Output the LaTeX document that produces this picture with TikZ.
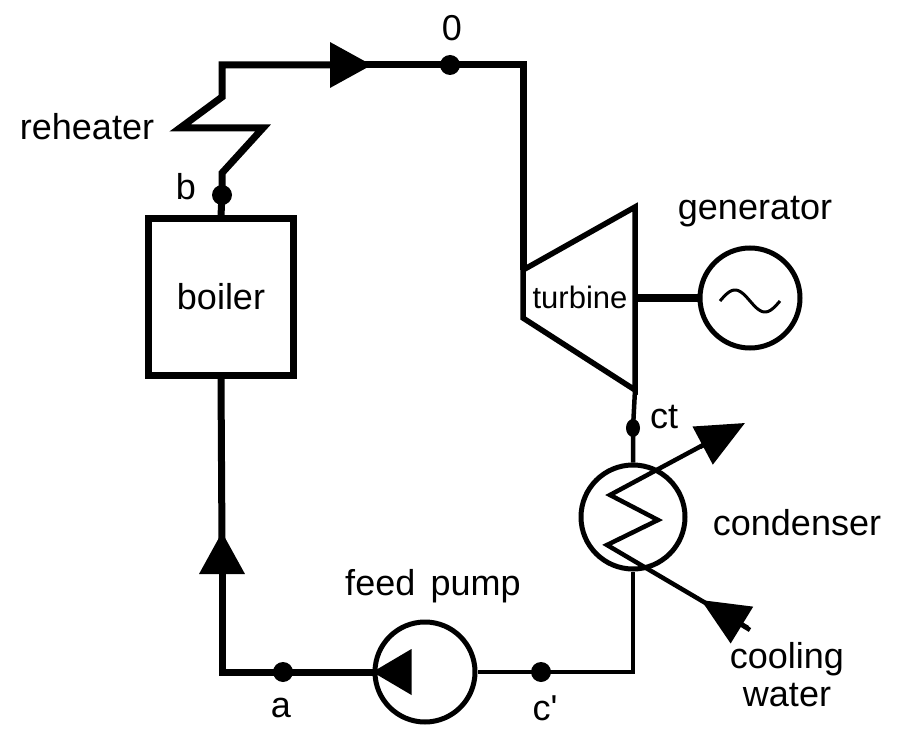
\documentclass[tikz,border=0pt]{standalone}
\usepackage{fontspec}
\setmainfont{Liberation Sans}
\usepackage{tikz}
\usetikzlibrary{shapes.geometric, arrows.meta, positioning}
\tikzstyle{pipe} = [line width=7pt, line join=miter]
\tikzstyle{thinpipe} = [line width=4.5pt]
\tikzstyle{head} = [-{Triangle[length=42pt, width=44pt]}]
\tikzstyle{dot} = [circle, fill, inner sep=0pt, minimum size=20pt]
\tikzstyle{tag} = [font=\fontsize{36}{38}\selectfont, inner sep=0pt]
\tikzstyle{machine} = [circle, draw, line width=5pt, inner sep=0pt, minimum size=100pt]
\tikzstyle{box} = [rectangle, draw, line width=7pt, minimum width=145pt, minimum height=156pt, font=\fontsize{36}{38}\selectfont]

\begin{document}
\begin{tikzpicture}[x=1pt, y=-1pt]
\useasboundingbox (0,0) rectangle (900,730);

% components
\node[box] (boiler) at (221,297) {boiler};
\node[machine] (pump) at (425,672) {};
\node[machine, minimum size=104pt] (cond) at (633,517) {};
\node[machine] (gen) at (750,298) {};

% state points
\node[dot] (p0) at (450,65) {};
\node[dot] (pb) at (222,195) {};
\node[dot] (pa) at (283,672) {};
\node[dot] (pc) at (541,672) {};
\node[dot, ellipse, minimum width=14pt, minimum height=18pt] (pct) at (633,428) {};

% turbine corners
\coordinate (tin) at (523,270);
\coordinate (ttop) at (635,207);
\coordinate (tbot) at (635,390);
\coordinate (tlow) at (523,318);
\draw[line width=5.5pt, line join=miter] (tin) -- (ttop) -- (tbot) -- (tlow) -- cycle;
\node[font=\fontsize{31}{34}\selectfont, inner sep=0pt] (turb) at (580,297) {turbine};

% shaft and generator
\coordinate (shaft) at (635,298);
\draw[line width=8pt] (shaft) -- (gen.west);
\draw[line width=3pt] plot[domain=0:1, samples=40] ({720+60*\x}, {301-11*sin(360*\x)});

% boiler -> reheater -> turbine
\draw[pipe, head] (boiler.north) -- (pb.center) -- (222,173) -- (263,128) -- (180,128) -- (222,97) -- (222,65) -- (372,65);
\draw[pipe] (360,65) -- (p0.center) -- (523,65) -- (tin);

% turbine -> condenser -> pump
\draw[thinpipe] (tbot) -- (pct.center) -- (cond.north);
\draw[thinpipe] (cond.south) -- (633,672) -- (pc.center) -- (pump.east);

% pump -> boiler
\draw[pipe] (pump.west) -- (pa.center);
\fill (pump.west) -- ++(39,-23) -- ++(0,46) -- cycle;
\draw[pipe, head] (pa.center) -- (222,672) -- (222,532);
\draw[pipe] (222,545) -- (boiler.south);

% condenser coil and cooling water
\draw[thinpipe, line join=miter] (748,628) -- (607,545) -- (658,520) -- (610,495) -- (705,444);
\draw[thinpipe, -{Triangle[length=48pt, width=42pt]}] (700,447) -- (745,423);
\draw[thinpipe, -{Triangle[length=48pt, width=42pt]}] (750,630) -- (701,600);

% labels
\node[tag] (l0) at (452,28) {0};
\node[tag] (lreheat) at (87,127) {reheater};
\node[tag] (lb) at (186,187) {b};
\node[tag] (lgen) at (755,212) {generator};
\node[tag] (lct) at (664,417) {ct};
\node[tag] (lcond) at (797,523) {condenser};
\node[tag] (lpump) at (433,586) {feed\hspace{0.15em} pump};
\node[tag, align=center] (lwater) at (787,675) {cooling\\water};
\node[tag] (la) at (281,708) {a};
\node[tag] (lc) at (545,708) {c\textquotesingle};

\end{tikzpicture}
\end{document}
